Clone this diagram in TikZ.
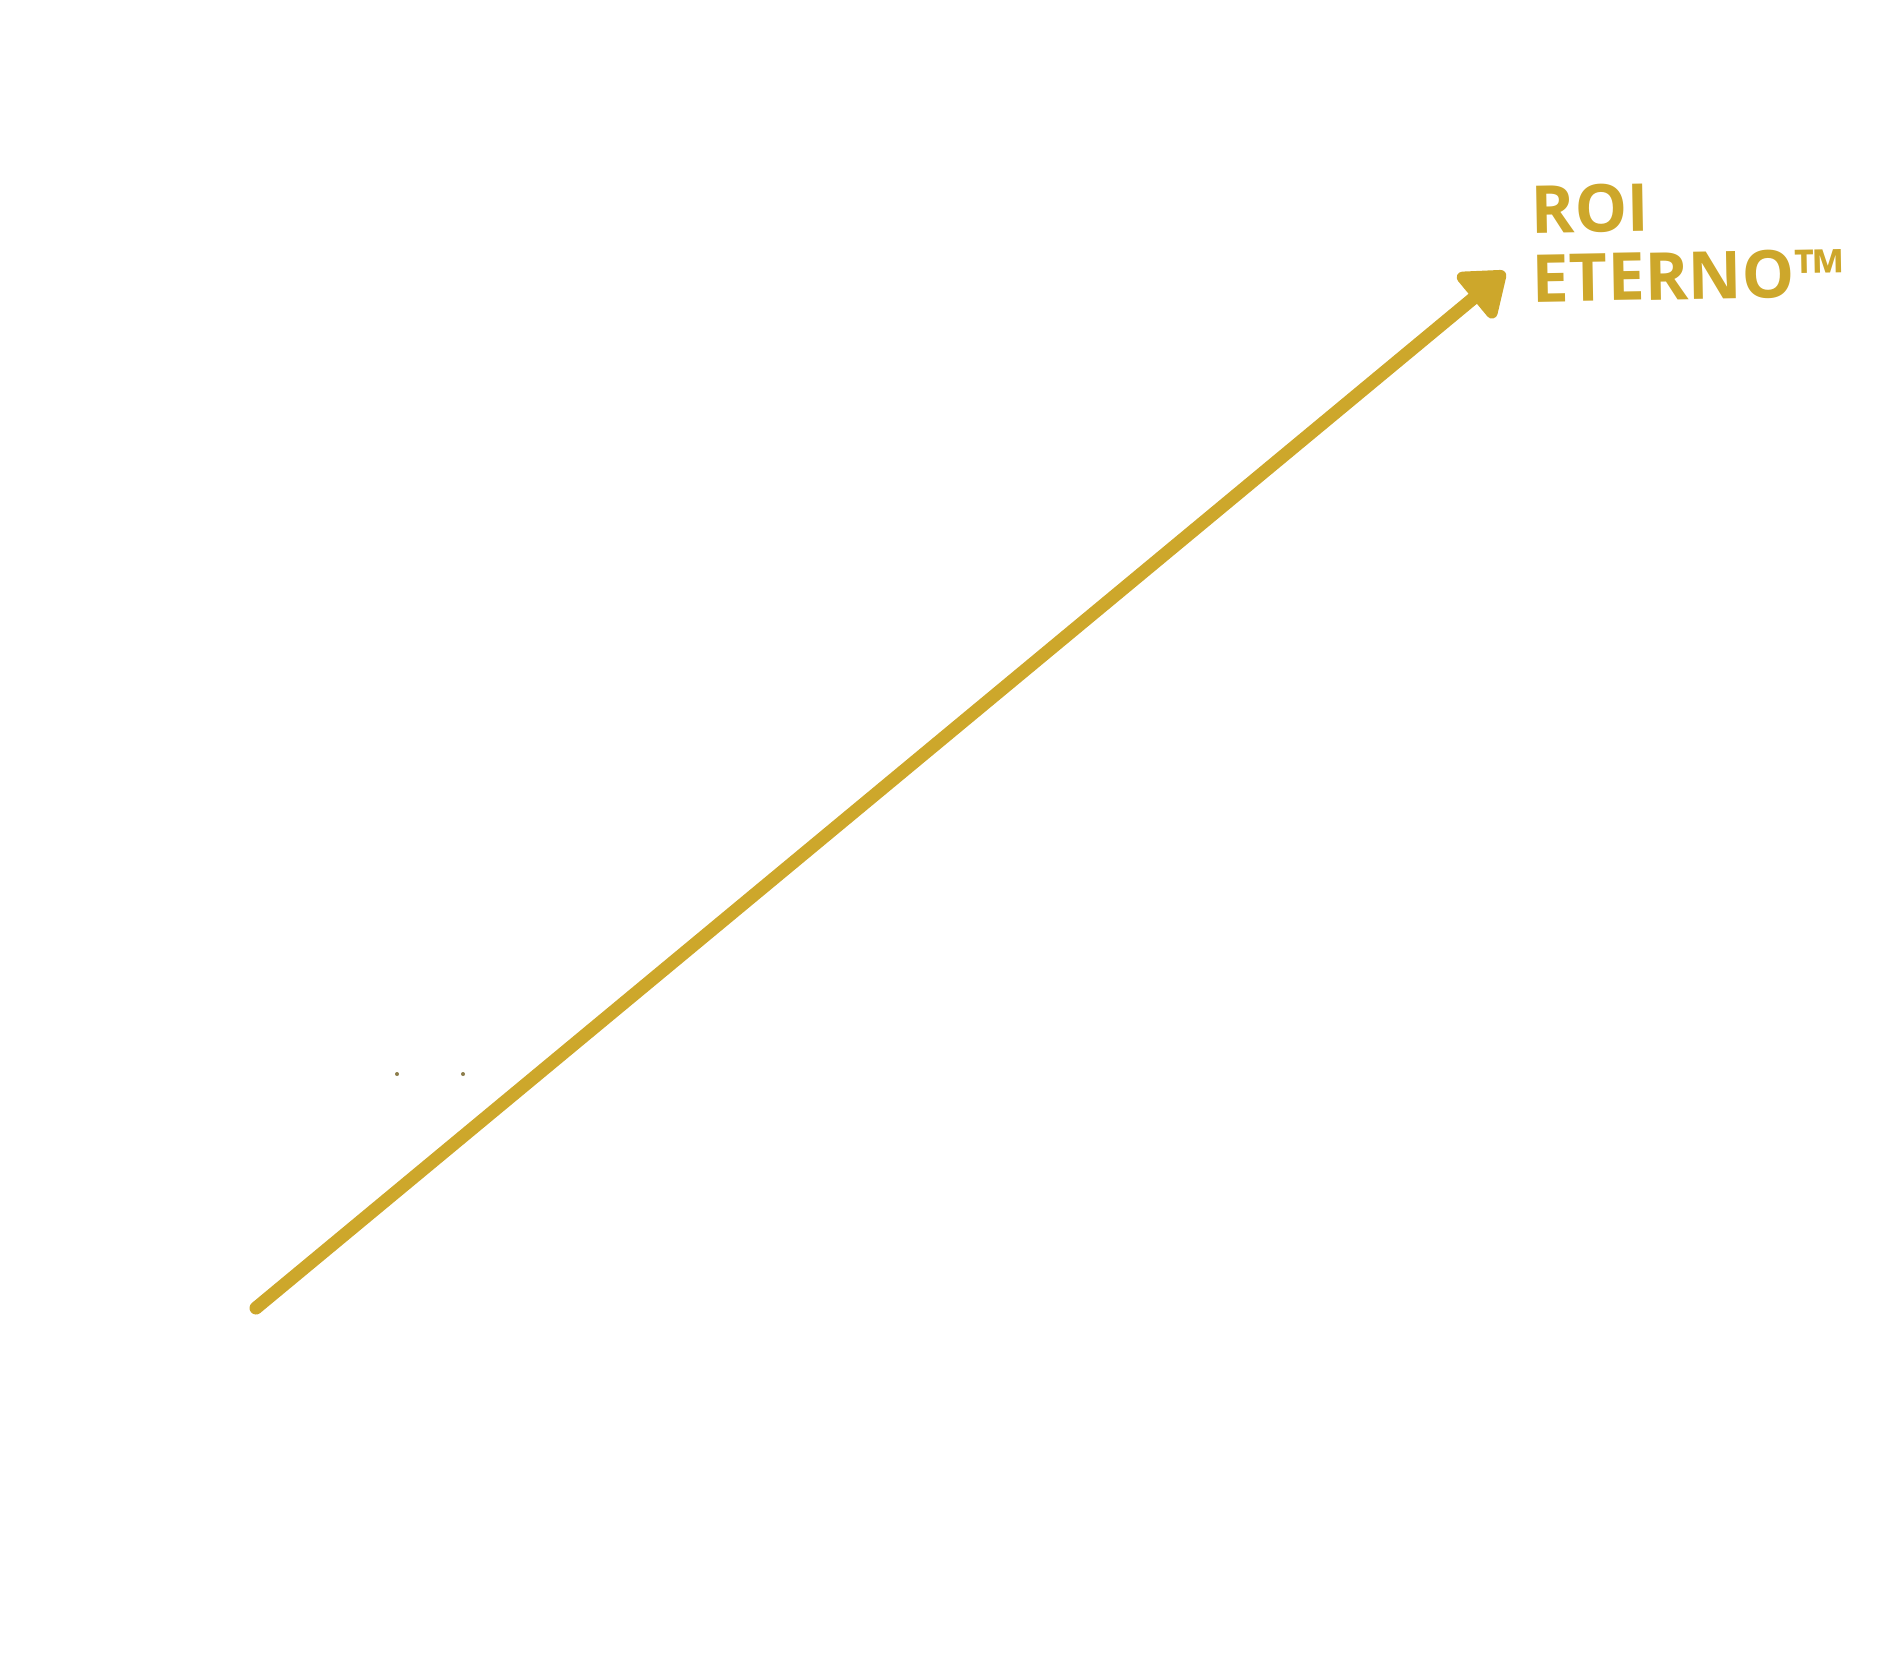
\documentclass[tikz,border=0pt]{standalone}
\usepackage{fontspec}
\setmainfont{Open Sans}
\usetikzlibrary{arrows.meta}
\definecolor{oro}{RGB}{205,167,43}
\definecolor{punto}{RGB}{140,125,75}
\begin{document}
\begin{tikzpicture}[x=0.01cm, y=-0.01cm,
	rotulo/.style={font=\fontsize{18.8pt}{22pt}\selectfont\bfseries, text=oro, inner sep=0pt, anchor=base west, rotate=1}]
\useasboundingbox (0,0) rectangle (1900,1656);

% Puntos sueltos
	\fill[punto] (397,1074) circle[radius=0.02cm];
	\fill[punto] (463,1074) circle[radius=0.02cm];

% Flecha
	\coordinate (inicio) at (256,1308);
	\coordinate (fin) at (1505,272);
	\draw[oro, line width=0.13cm, line cap=round, -{Triangle[length=0.46cm, width=0.66cm, round]}] (inicio) -- (fin);

% Rotulo
	\node[rotulo] (roi) at (1531,233) {ROI};
	\node[rotulo] (eterno) at (1532,302) {ETERNO™};
\end{tikzpicture}
\end{document}
